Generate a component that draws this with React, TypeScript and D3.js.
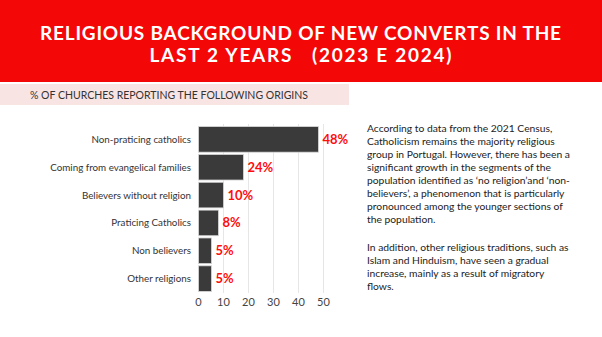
import React from "react";
import * as d3 from "d3";

const categories = [
  "Non-praticing catholics",
  "Coming from evangelical families",
  "Believers without religion",
  "Praticing Catholics",
  "Non believers",
  "Other religions",
];
// bar lengths as drawn in the picture
const barValues = [48, 18, 10, 8, 5.2, 5.2];
// printed labels
const labels = ["48%", "24%", "10%", "8%", "5%", "5%"];
const ticks = [0, 10, 20, 30, 40, 50];
const titleLines = [
  "RELIGIOUS BACKGROUND OF NEW CONVERTS IN THE",
  "LAST 2 YEARS   (2023 E 2024)",
];
const subtitle = "% OF CHURCHES REPORTING THE FOLLOWING ORIGINS";
const para1 = [
  "According to data from the 2021 Census,",
  "Catholicism remains the majority religious",
  "group in Portugal. However, there has been a",
  "significant growth in the segments of the",
  "population identified as \u2018no religion\u2019and \u2018non-",
  "believers\u2019, a phenomenon that is particularly",
  "pronounced among the younger sections of",
  "the population.",
];
const para2 = [
  "In addition, other religious traditions, such as",
  "Islam and Hinduism, have seen a gradual",
  "increase, mainly as a result of migratory",
  "flows.",
];

const W = 602;
const H = 337;
const RED = "#f40707";
const FONT = "Lato, 'Open Sans', sans-serif";

export default function App() {
  const x = d3.scaleLinear().domain([0, 50]).range([198.5, 323.5]);
  const y = d3.scaleBand<string>().domain(categories).range([126, 292]).paddingInner(0.08).paddingOuter(0.02);
  const gridTop = 124;
  const gridBottom = 293;
  const titleWidths = [521, 302];
  const titleBaselines = [40, 61.5];
  return (
    <svg width={W} height={H} style={{ position: "absolute", left: 0, top: 0, background: "#fff" }} fontFamily={FONT}>
      <rect x={0} y={0} width={W} height={82} fill={RED} />
      {titleLines.map((t, i) => (
        <text
          key={i}
          x={300.5}
          y={titleBaselines[i]}
          textAnchor="middle"
          fill="#fff"
          fontSize={19}
          fontWeight={700}
          textLength={titleWidths[i]}
          lengthAdjust="spacing"
          style={{ whiteSpace: "pre" }}
        >
          {t}
        </text>
      ))}
      <rect x={0} y={84} width={349} height={21} fill="#f9e4e4" />
      <text x={30} y={98.5} fill="#333" fontSize={10.5} textLength={278} lengthAdjust="spacingAndGlyphs">{subtitle}</text>

      {ticks.slice(1).map((t) => (
        <line key={t} x1={x(t)} x2={x(t)} y1={gridTop} y2={gridBottom} stroke="#e6e6e6" strokeWidth={1} />
      ))}
      {categories.map((c, i) => (
        <g key={c}>
          <rect x={x(0)} y={y(c)!} width={x(barValues[i]) - x(0)} height={y.bandwidth()} fill="#3a3a3a" stroke="#d9d9d9" strokeWidth={0.8} />
          <text x={191} y={y(c)! + y.bandwidth() / 2} dy="0.35em" textAnchor="end" fill="#333" fontSize={9.8}>
            {c}
          </text>
          <text x={x(barValues[i]) + 4} y={y(c)! + y.bandwidth() / 2} dy="0.35em" fill="#ff0d0d" fontSize={13} fontWeight={700}>
            {labels[i]}
          </text>
        </g>
      ))}
      {ticks.map((t) => (
        <text key={t} x={x(t)} y={302} dy="0.35em" textAnchor="middle" fill="#444" fontSize={11}>
          {t}
        </text>
      ))}

      {para1.map((t, i) => (
        <text key={"a" + i} x={367} y={128 + i * 13} dy="0.35em" fill="#222" fontSize={10.3}>
          {t}
        </text>
      ))}
      {para2.map((t, i) => (
        <text key={"b" + i} x={367} y={247 + i * 13} dy="0.35em" fill="#222" fontSize={10.3}>
          {t}
        </text>
      ))}
    </svg>
  );
}
